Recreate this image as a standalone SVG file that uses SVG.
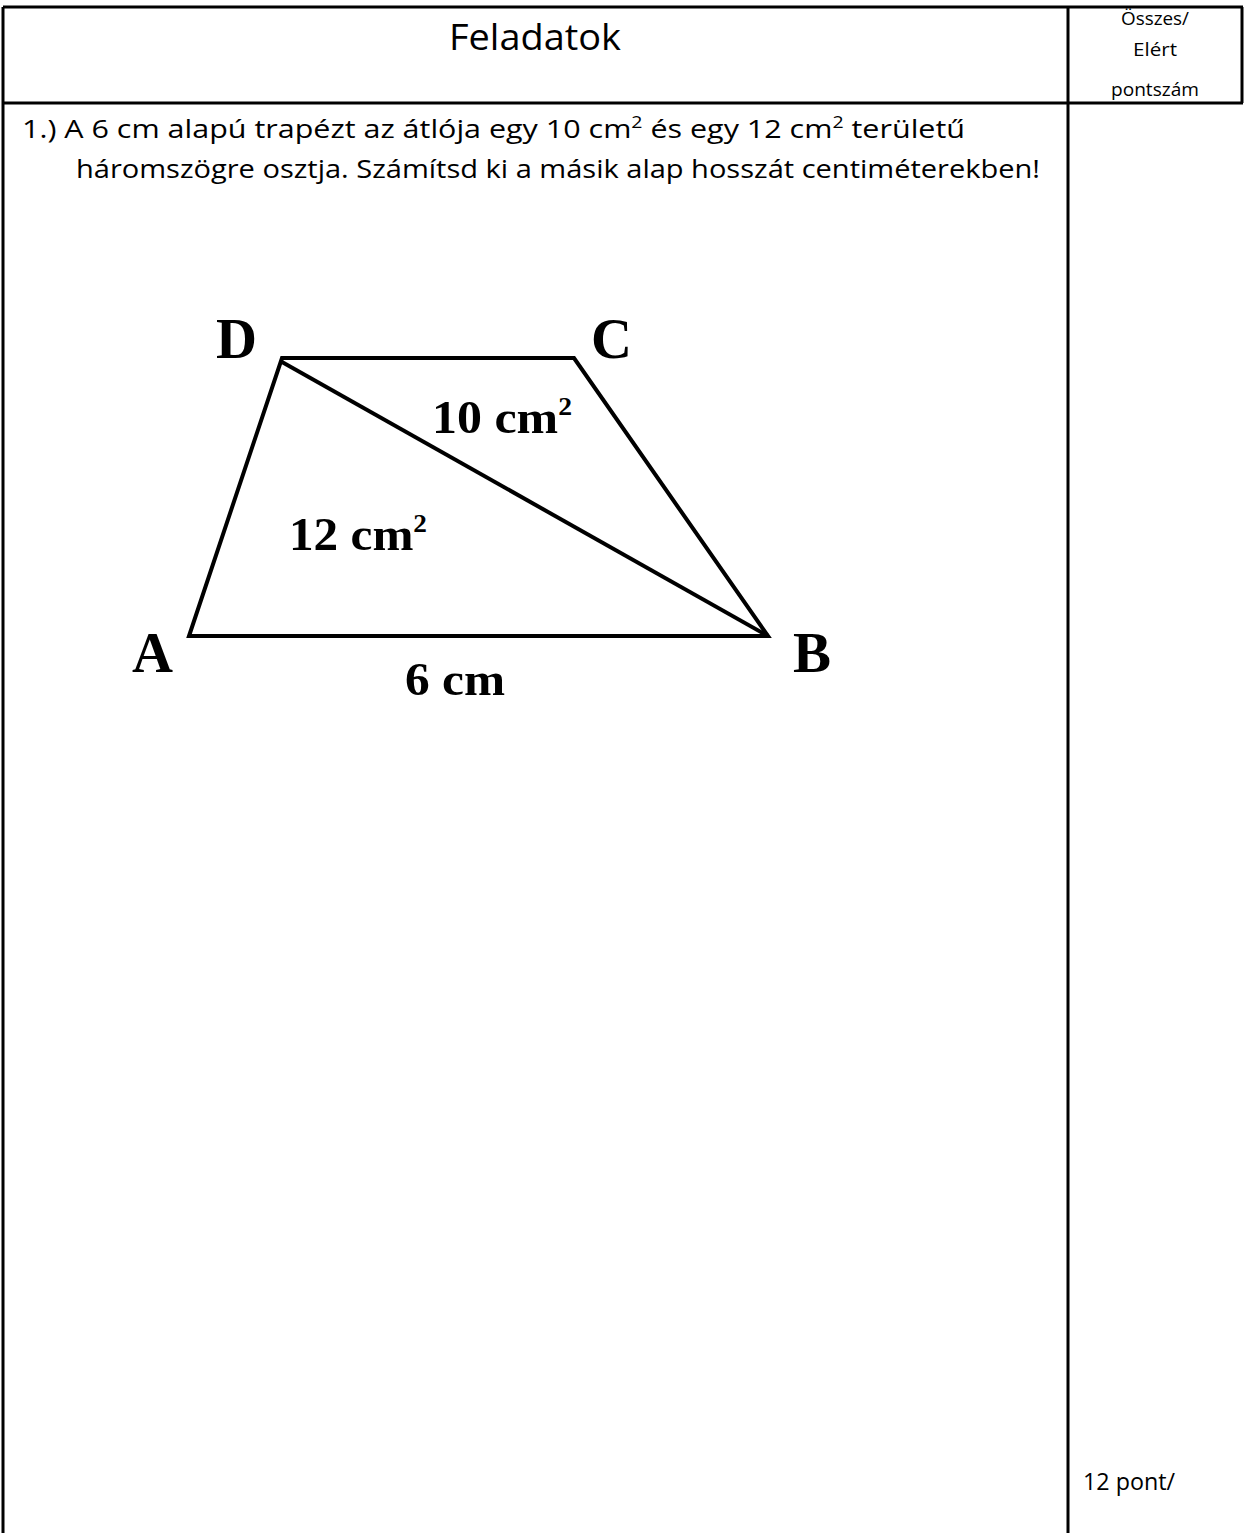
<svg xmlns="http://www.w3.org/2000/svg" width="1245" height="1533" viewBox="0 0 1245 1533">
<style>
.t{font-family:"Open Sans","Liberation Sans",sans-serif;fill:#000}
.g{font-family:"Liberation Serif","DejaVu Serif",serif;font-weight:bold;fill:#000}
.ln{stroke:#000;stroke-width:3;fill:none}
.fig{stroke:#000;stroke-width:4;fill:none;stroke-linejoin:miter}
</style>
<rect width="1245" height="1533" fill="#fff"/>
<g id="table">
<line class="ln" x1="3" y1="7" x2="1243" y2="7"/>
<line class="ln" x1="3" y1="7" x2="3" y2="1533"/>
<line class="ln" x1="1242" y1="7" x2="1242" y2="103"/>
<line class="ln" x1="1068" y1="7" x2="1068" y2="1533"/>
<line class="ln" x1="3" y1="103" x2="1243" y2="103"/>
</g>
<g id="header">
<text class="t" x="535" y="50" font-size="36" text-anchor="middle" textLength="172" lengthAdjust="spacingAndGlyphs">Feladatok</text>
<text class="t" x="1155" y="25" font-size="18" text-anchor="middle" textLength="68" lengthAdjust="spacingAndGlyphs">Összes/</text>
<text class="t" x="1155" y="56" font-size="18" text-anchor="middle" textLength="44" lengthAdjust="spacingAndGlyphs">Elért</text>
<text class="t" x="1155" y="96" font-size="18" text-anchor="middle" textLength="88" lengthAdjust="spacingAndGlyphs">pontszám</text>
</g>
<g id="task">
<text class="t" x="22" y="138" font-size="25" textLength="943" lengthAdjust="spacingAndGlyphs">1.)  A 6 cm alapú trapézt az átlója egy 10 cm<tspan font-size="16" dy="-10">2</tspan><tspan dy="10"> és egy 12 cm</tspan><tspan font-size="16" dy="-10">2</tspan><tspan dy="10"> területű</tspan></text>
<text class="t" x="76" y="178" font-size="25" textLength="964" lengthAdjust="spacingAndGlyphs">háromszögre osztja. Számítsd ki a másik alap hosszát centiméterekben!</text>
</g>
<g id="figure">
<polygon class="fig" points="282,358 574,358 768,636 189,636"/>
<line class="fig" x1="282" y1="362" x2="768" y2="636"/>
<text class="g" x="216" y="358" font-size="56" textLength="41" lengthAdjust="spacingAndGlyphs">D</text>
<text class="g" x="591" y="358" font-size="56" textLength="41" lengthAdjust="spacingAndGlyphs">C</text>
<text class="g" x="132" y="672" font-size="56" textLength="41" lengthAdjust="spacingAndGlyphs">A</text>
<text class="g" x="793" y="672" font-size="56" textLength="38" lengthAdjust="spacingAndGlyphs">B</text>
<text class="g" x="432" y="433" font-size="47" textLength="140" lengthAdjust="spacingAndGlyphs">10 cm<tspan font-size="26" dy="-18">2</tspan></text>
<text class="g" x="289" y="550" font-size="47" textLength="138" lengthAdjust="spacingAndGlyphs">12 cm<tspan font-size="26" dy="-18">2</tspan></text>
<text class="g" x="405" y="695" font-size="47" textLength="100" lengthAdjust="spacingAndGlyphs">6 cm</text>
</g>
<g id="score">
<text class="t" x="1083" y="1490" font-size="24" textLength="92" lengthAdjust="spacingAndGlyphs">12 pont/</text>
</g>
</svg>
